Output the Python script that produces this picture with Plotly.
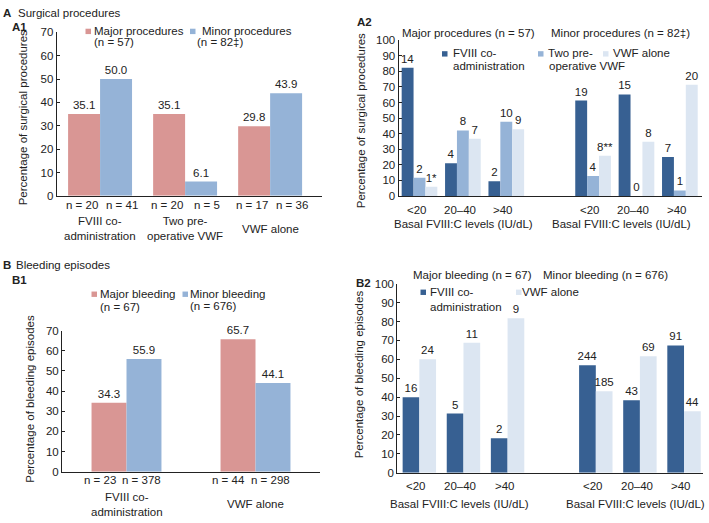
import plotly.graph_objects as go

W, H = 709, 523
FONT = "Liberation Sans, Arial, sans-serif"
PINK = "#d99694"
BLUE = "#95b3d7"
DARK = "#376092"
MID = "#95b3d7"
LIGHT = "#dce6f2"

# A1 - surgical procedures by regimen
a1_major = [35.1, 35.1, 29.8]
a1_minor = [50.0, 6.1, 43.9]
a1_major_n = ["n = 20", "n = 20", "n = 17"]
a1_minor_n = ["n = 41", "n = 5", "n = 36"]
a1_groups = ["FVIII co-<br>administration", "Two pre-<br>operative VWF", "VWF alone"]

# A2 - surgical procedures by basal FVIII:C (major | minor)
a2_levels = ["<20", "20–40", ">40", "<20", "20–40", ">40"]
a2_fviii = [82.4, 21.1, 9.5, 61.3, 65.2, 25.0]
a2_twopre = [11.8, 42.1, 47.6, 12.9, 0.0, 3.6]
a2_vwf = [5.9, 36.8, 42.9, 25.8, 34.8, 71.4]
a2_fviii_lbl = ["14", "4", "2", "19", "15", "7"]
a2_twopre_lbl = ["2", "8", "10", "4", "0", "1"]
a2_vwf_lbl = ["1*", "7", "9", "8**", "8", "20"]

# B1 - bleeding episodes by regimen
b1_major = [34.3, 65.7]
b1_minor = [55.9, 44.1]
b1_major_n = ["n = 23", "n = 44"]
b1_minor_n = ["n = 378", "n = 298"]
b1_groups = ["FVIII co-<br>administration", "VWF alone"]

# B2 - bleeding episodes by basal FVIII:C (major | minor)
b2_levels = ["<20", "20–40", ">40", "<20", "20–40", ">40"]
b2_fviii = [40.0, 31.3, 18.2, 56.9, 38.4, 67.4]
b2_vwf = [60.0, 68.8, 81.8, 43.1, 61.6, 32.6]
b2_fviii_lbl = ["16", "5", "2", "244", "43", "91"]
b2_vwf_lbl = ["24", "11", "9", "185", "69", "44"]

# slots for the split x axes (slot 3 left empty)
slots = [0, 1, 2, 4, 5, 6]


def px(x):
    return x / W


def py(y):
    return 1 - y / H


fig = go.Figure()


def add_bar(x, y, text, color, xa, ya, width, offset):
    fig.add_trace(go.Bar(
        x=x, y=y, text=text, textposition="outside", constraintext="none",
        textfont=dict(size=11.5, color="#222", family=FONT),
        marker=dict(color=color, line=dict(width=0)),
        width=width, offset=offset, cliponaxis=False,
        xaxis=xa, yaxis=ya, showlegend=False, hoverinfo="skip"))


fmt = lambda v: ["%.1f" % a for a in v]

add_bar(list(range(3)), a1_major, fmt(a1_major), PINK, "x", "y", 0.376, -0.376)
add_bar(list(range(3)), a1_minor, fmt(a1_minor), BLUE, "x", "y", 0.376, 0.0)

add_bar(slots, a2_fviii, a2_fviii_lbl, DARK, "x2", "y2", 0.274, -0.411)
add_bar(slots, a2_twopre, a2_twopre_lbl, MID, "x2", "y2", 0.274, -0.137)
add_bar(slots, a2_vwf, a2_vwf_lbl, LIGHT, "x2", "y2", 0.274, 0.137)

add_bar(list(range(2)), b1_major, fmt(b1_major), PINK, "x3", "y3", 0.271, -0.271)
add_bar(list(range(2)), b1_minor, fmt(b1_minor), BLUE, "x3", "y3", 0.271, 0.0)

add_bar(slots, b2_fviii, b2_fviii_lbl, DARK, "x4", "y4", 0.379, -0.379)
add_bar(slots, b2_vwf, b2_vwf_lbl, LIGHT, "x4", "y4", 0.379, 0.0)

xcommon = dict(showline=True, linecolor="#222", linewidth=1, showgrid=False,
               zeroline=False, ticks="", showticklabels=False, fixedrange=True)
ycommon = dict(showline=True, linecolor="#222", linewidth=1, showgrid=False,
               zeroline=False, dtick=10, ticks="inside", ticklen=3,
               tickcolor="#222", tickfont=dict(size=11.5, color="#222"))

fig.update_layout(
    width=W, height=H, margin=dict(l=0, r=0, t=0, b=0),
    paper_bgcolor="white", plot_bgcolor="white",
    font=dict(family=FONT, size=11.5, color="#222"),
    barmode="overlay",
    xaxis=dict(xcommon, domain=[px(56.7), px(322)], range=[-0.51, 2.61], anchor="y"),
    yaxis=dict(ycommon, domain=[py(194.3), py(27)], range=[0, 70], anchor="x"),
    xaxis2=dict(xcommon, domain=[px(398.5), px(702)], range=[-0.484, 6.51], anchor="y2"),
    yaxis2=dict(ycommon, domain=[py(194.5), py(35)], range=[0, 100], anchor="x2"),
    xaxis3=dict(xcommon, domain=[px(62), px(320)], range=[-0.5, 1.5], anchor="y3"),
    yaxis3=dict(ycommon, domain=[py(476.7), py(332.3)], range=[0, 70], anchor="x3"),
    xaxis4=dict(xcommon, domain=[px(397.3), px(703)], range=[-0.5, 6.43], anchor="y4"),
    yaxis4=dict(ycommon, domain=[py(477.7), py(284.3)], range=[0, 100], anchor="x4"),
)

ann = []


def text(x, y, s, anchor="left", size=11.5, bold=False, xref="paper", xshift=0, angle=0):
    if bold:
        s = "<b>%s</b>" % s
    ann.append(dict(x=x if xref != "paper" else px(x), y=py(y), xref=xref, yref="paper",
                    text=s, showarrow=False, xanchor=anchor, yanchor="middle",
                    xshift=xshift, textangle=angle, align="center",
                    font=dict(size=size, color="#222", family=FONT)))


# panel titles
text(1, 7, "A", bold=True)
text(16, 7, "Surgical procedures")
text(10, 21, "A1", bold=True)
text(355, 16, "A2", bold=True)
text(1, 265, "B", bold=True)
text(14, 265, "Bleeding episodes")
text(10, 280, "B1", bold=True)
text(354, 284, "B2", bold=True)

# y-axis titles
text(23, 115, "Percentage of surgical procedures", anchor="center", angle=-90)
text(361, 118, "Percentage of surgical procedures", anchor="center", angle=-90)
text(30, 402, "Percentage of bleeding episodes", anchor="center", angle=-90)
text(359, 377, "Percentage of bleeding episodes", anchor="center", angle=-90)

# A1 labels below axis
for i in range(3):
    text(i, 204, a1_major_n[i], anchor="center", xref="x", xshift=-18)
    text(i, 204, a1_minor_n[i], anchor="center", xref="x", xshift=22)
    text(i, 228, a1_groups[i], anchor="center", xref="x")

# B1 labels below axis
for i in range(2):
    text(i, 485, b1_major_n[i], anchor="center", xref="x3", xshift=-27)
    text(i, 485, b1_minor_n[i], anchor="center", xref="x3", xshift=15)
    text(i, 510, b1_groups[i], anchor="center", xref="x3")

# A2 / B2 level labels
for k, s in enumerate(a2_levels):
    text(slots[k], 209, s, anchor="center", xref="x2", xshift=-3)
for k, s in enumerate(b2_levels):
    text(slots[k], 491, s, anchor="center", xref="x4", xshift=-3)
text(463, 223, "Basal FVIII:C levels (IU/dL)", anchor="center")
text(621, 223, "Basal FVIII:C levels (IU/dL)", anchor="center")
text(459, 510, "Basal FVIII:C levels (IU/dL)", anchor="center")
text(635, 510, "Basal FVIII:C levels (IU/dL)", anchor="center")

# legends and headers
shapes = []


def square(x, y, color, s=5.5):
    shapes.append(dict(type="rect", xref="paper", yref="paper",
                       x0=px(x), x1=px(x + s), y0=py(y + s / 2), y1=py(y - s / 2),
                       fillcolor=color, line=dict(width=0)))


square(85.5, 26, PINK)
text(92, 26, "Major procedures")
text(92, 37, "(n = 57)")
square(190, 26, BLUE)
text(200, 26, "Minor procedures")
text(195, 37, "(n = 82‡)")

text(400, 28, "Major procedures (n = 57)")
text(549, 28, "Minor procedures (n = 82‡)")
square(442, 49, DARK)
text(451, 48, "FVIII co-")
text(451, 61, "administration")
square(538, 49, MID)
text(546, 48, "Two pre-")
text(547, 61, "operative VWF")
square(603, 49, LIGHT)
text(611, 48, "VWF alone")

square(91.5, 295, PINK)
text(97.5, 295, "Major bleeding")
text(97.5, 308, "(n = 67)")
square(182.5, 295, BLUE)
text(188.5, 295, "Minor bleeding")
text(188.5, 307, "(n = 676)")

text(411, 275, "Major bleeding (n = 67)")
text(541, 275, "Minor bleeding (n = 676)")
square(420.5, 293, DARK)
text(428, 293, "FVIII co-")
text(428, 308, "administration")
square(516, 293, LIGHT)
text(520, 293, "VWF alone")

fig.update_layout(annotations=ann, shapes=shapes)
fig.write_html("out.html", config={"displayModeBar": False},
               post_script="document.body.style.margin='0';")
